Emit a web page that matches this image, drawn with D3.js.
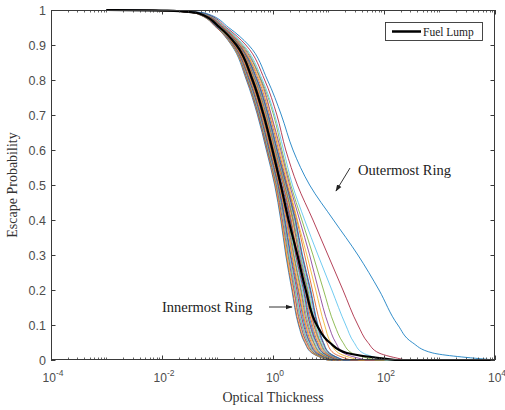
<!DOCTYPE html>
<html>
<head>
<meta charset="utf-8">
<script src="https://cdn.jsdelivr.net/npm/d3@7"></script>
<style>
  html, body { margin: 0; padding: 0; background: #fff; }
  svg { display: block; }
</style>
</head>
<body>
<div id="chart"></div>
<script>

// escape probability levels shared by every curve (y values)
const probLevels = [1, 0.998, 0.99, 0.95, 0.9, 0.8, 0.7, 0.6, 0.5, 0.4, 0.3, 0.2, 0.1, 0.05, 0.02, 0];

// log10(optical thickness) where each ring reaches the levels above, ring 1 = innermost
const ringLogTau = [
  [-3, -1.94, -1.38, -1.02, -0.75, -0.48, -0.28, -0.12, 0.03, 0.14, 0.23, 0.34, 0.46, 0.57, 0.70, 0.97],
  [-3, -1.94, -1.38, -1.02, -0.74, -0.47, -0.27, -0.11, 0.04, 0.15, 0.24, 0.35, 0.47, 0.58, 0.71, 0.98],
  [-3, -1.94, -1.37, -1.01, -0.74, -0.46, -0.26, -0.10, 0.05, 0.16, 0.25, 0.37, 0.49, 0.60, 0.73, 0.99],
  [-3, -1.93, -1.37, -1.01, -0.73, -0.46, -0.26, -0.10, 0.06, 0.17, 0.27, 0.38, 0.50, 0.61, 0.74, 1.01],
  [-3, -1.93, -1.37, -1.00, -0.72, -0.45, -0.25, -0.09, 0.07, 0.19, 0.28, 0.40, 0.52, 0.63, 0.75, 1.02],
  [-3, -1.93, -1.36, -1.00, -0.72, -0.44, -0.24, -0.08, 0.08, 0.20, 0.29, 0.41, 0.53, 0.64, 0.77, 1.03],
  [-3, -1.93, -1.36, -0.99, -0.71, -0.43, -0.23, -0.07, 0.09, 0.21, 0.31, 0.43, 0.55, 0.66, 0.78, 1.05],
  [-3, -1.92, -1.35, -0.99, -0.70, -0.42, -0.22, -0.06, 0.10, 0.22, 0.32, 0.45, 0.57, 0.67, 0.80, 1.06],
  [-3, -1.92, -1.35, -0.98, -0.70, -0.41, -0.21, -0.05, 0.11, 0.24, 0.34, 0.46, 0.59, 0.69, 0.82, 1.08],
  [-3, -1.92, -1.34, -0.98, -0.69, -0.40, -0.20, -0.04, 0.12, 0.25, 0.35, 0.48, 0.60, 0.71, 0.83, 1.09],
  [-3, -1.92, -1.34, -0.97, -0.68, -0.39, -0.19, -0.03, 0.13, 0.26, 0.37, 0.50, 0.62, 0.73, 0.85, 1.11],
  [-3, -1.91, -1.33, -0.96, -0.67, -0.38, -0.18, -0.02, 0.14, 0.28, 0.38, 0.51, 0.64, 0.74, 0.86, 1.12],
  [-3, -1.91, -1.33, -0.96, -0.67, -0.37, -0.17, -0.01, 0.15, 0.29, 0.40, 0.53, 0.66, 0.76, 0.88, 1.14],
  [-3, -1.91, -1.33, -0.95, -0.66, -0.36, -0.16, 0.00, 0.16, 0.31, 0.41, 0.55, 0.67, 0.78, 0.90, 1.15],
  [-3, -1.91, -1.32, -0.95, -0.65, -0.35, -0.15, 0.01, 0.18, 0.32, 0.43, 0.56, 0.69, 0.79, 0.91, 1.17],
  [-3, -1.90, -1.32, -0.94, -0.64, -0.34, -0.14, 0.02, 0.19, 0.33, 0.44, 0.58, 0.71, 0.81, 0.93, 1.18],
  [-3, -1.90, -1.31, -0.94, -0.64, -0.33, -0.13, 0.03, 0.20, 0.35, 0.46, 0.60, 0.73, 0.83, 0.94, 1.20],
  [-3, -1.90, -1.31, -0.93, -0.63, -0.32, -0.12, 0.04, 0.21, 0.36, 0.47, 0.62, 0.74, 0.85, 0.96, 1.21],
  [-3, -1.90, -1.30, -0.93, -0.62, -0.31, -0.11, 0.05, 0.22, 0.37, 0.49, 0.63, 0.76, 0.86, 0.98, 1.23],
  [-3, -1.89, -1.30, -0.92, -0.61, -0.30, -0.10, 0.06, 0.23, 0.39, 0.50, 0.65, 0.78, 0.88, 0.99, 1.24],
  [-3, -1.89, -1.29, -0.91, -0.61, -0.29, -0.09, 0.07, 0.24, 0.40, 0.52, 0.67, 0.80, 0.90, 1.01, 1.26],
  [-3, -1.89, -1.29, -0.91, -0.60, -0.28, -0.08, 0.08, 0.25, 0.41, 0.53, 0.68, 0.81, 0.91, 1.02, 1.27],
  [-3, -1.89, -1.29, -0.91, -0.59, -0.26, -0.06, 0.10, 0.26, 0.43, 0.57, 0.71, 0.86, 0.97, 1.09, 1.40],
  [-3, -1.87, -1.27, -0.89, -0.59, -0.24, -0.04, 0.12, 0.28, 0.44, 0.61, 0.77, 0.93, 1.04, 1.18, 1.55],
  [-3, -1.87, -1.27, -0.89, -0.57, -0.22, -0.03, 0.14, 0.30, 0.48, 0.66, 0.82, 1.00, 1.13, 1.27, 1.67],
  [-3, -1.85, -1.25, -0.87, -0.55, -0.21, 0.01, 0.16, 0.32, 0.52, 0.72, 0.91, 1.11, 1.26, 1.42, 1.85],
  [-3, -1.85, -1.24, -0.86, -0.53, -0.19, 0.03, 0.19, 0.35, 0.57, 0.81, 1.06, 1.31, 1.46, 1.62, 2.03],
  [-3, -1.83, -1.22, -0.84, -0.49, -0.15, 0.07, 0.23, 0.44, 0.72, 0.99, 1.26, 1.53, 1.71, 1.91, 2.39],
  [-3, -1.81, -1.20, -0.80, -0.44, -0.10, 0.15, 0.36, 0.66, 1.09, 1.53, 1.91, 2.25, 2.51, 2.88, 4.00]
];

// whole fuel lump
const fuelLumpLogTau = [-3, -1.90, -1.33, -0.96, -0.66, -0.37, -0.17, -0.01, 0.14, 0.28, 0.44, 0.59, 0.79, 1.02, 1.33, 2.21];

const yTicks = [0, 0.1, 0.2, 0.3, 0.4, 0.5, 0.6, 0.7, 0.8, 0.9, 1];
const xTickExps = [-4, -2, 0, 2, 4];

// matlab default line colour order
const lineColors = ["#0072BD", "#D95319", "#EDB120", "#7E2F8E", "#77AC30", "#4DBEEE", "#A2142F"];


const width = 505, height = 410;
const margin = {top: 10, right: 10, bottom: 50, left: 51};

const svg = d3.select("#chart").append("svg")
  .attr("width", width)
  .attr("height", height);

const x = d3.scaleLog()
  .domain([1e-4, 1e4])
  .range([margin.left, width - margin.right]);

const y = d3.scaleLinear()
  .domain([0, 1])
  .range([height - margin.bottom, margin.top]);

const axisColor = "#3a3a3a";
const labelColor = "#4d4d4d";

svg.append("defs").append("clipPath")
  .attr("id", "plot-clip")
  .append("rect")
  .attr("x", x.range()[0])
  .attr("y", y(1) - 1)
  .attr("width", x.range()[1] - x.range()[0])
  .attr("height", y(0) - y(1) + 2);

svg.select("defs").append("marker")
  .attr("id", "arrow")
  .attr("viewBox", "0 0 10 10")
  .attr("refX", 9)
  .attr("refY", 5)
  .attr("markerWidth", 7)
  .attr("markerHeight", 7)
  .attr("orient", "auto")
  .append("path")
  .attr("d", "M0,1.5 L10,5 L0,8.5 Z")
  .attr("fill", "#222");

// **** curves *****************

// tau as a function of probability is the smooth one, so interpolate along y
const line = d3.line()
  .x(d => x(Math.pow(10, d[0])))
  .y(d => y(d[1]))
  .curve(d3.curveMonotoneY);

function curvePath(logTau) {
  const pts = logTau.map((L, i) => [L, probLevels[i]]);
  // curves lie on zero out to the end of the axis
  return line(pts) + `L${x.range()[1]},${y(0)}`;
}

const plot = svg.append("g").attr("clip-path", "url(#plot-clip)");

plot.append("g")
  .attr("fill", "none")
  .attr("stroke-width", 1)
  .attr("stroke-opacity", 0.8)
  .selectAll("path")
  .data(ringLogTau)
  .join("path")
  .attr("stroke", (d, i) => lineColors[i % lineColors.length])
  .attr("d", curvePath);

plot.append("path")
  .attr("fill", "none")
  .attr("stroke", "#000")
  .attr("stroke-width", 2.2)
  .attr("d", curvePath(fuelLumpLogTau));

// **** axes *****************

const minorTicks = [];
for (let e = -4; e < 4; e++) {
  for (let m = 1; m < 10; m++) {
    if (m === 1 && xTickExps.includes(e)) continue;
    minorTicks.push(m * Math.pow(10, e));
  }
}

const axes = svg.append("g")
  .attr("stroke", axisColor)
  .attr("stroke-width", 1)
  .attr("fill", "none");

axes.append("rect")
  .attr("x", x.range()[0] + 0.5)
  .attr("y", y(1) + 0.5)
  .attr("width", x.range()[1] - x.range()[0] - 1)
  .attr("height", y(0) - y(1) - 1);

// y ticks on both sides, pointing in
axes.selectAll(".ytick")
  .data(yTicks)
  .join("path")
  .attr("class", "ytick")
  .attr("d", d => {
    const py = Math.round(y(d)) + 0.5;
    const x0 = x.range()[0], x1 = x.range()[1];
    return `M${x0},${py}h4.5M${x1},${py}h-4.5`;
  });

// x major and minor ticks, top and bottom
axes.selectAll(".xtick")
  .data(xTickExps.map(e => Math.pow(10, e)))
  .join("path")
  .attr("class", "xtick")
  .attr("d", d => {
    const px = Math.round(x(d)) + 0.5;
    return `M${px},${y(0)}v-4.5M${px},${y(1)}v4.5`;
  });

axes.selectAll(".xminor")
  .data(minorTicks)
  .join("path")
  .attr("class", "xminor")
  .attr("stroke-width", 0.8)
  .attr("d", d => {
    const px = Math.round(x(d)) + 0.5;
    return `M${px},${y(0)}v-2.5M${px},${y(1)}v2.5`;
  });

svg.append("g")
  .attr("font-family", "'Liberation Sans', Arial, sans-serif")
  .attr("font-size", 12.5)
  .attr("fill", labelColor)
  .attr("text-anchor", "end")
  .selectAll("text")
  .data(yTicks)
  .join("text")
  .attr("x", x.range()[0] - 5)
  .attr("y", d => y(d))
  .attr("dy", "0.36em")
  .text(d => d);

const xLabels = svg.append("g")
  .attr("font-family", "'Liberation Sans', Arial, sans-serif")
  .attr("fill", labelColor)
  .attr("text-anchor", "middle")
  .selectAll("text")
  .data(xTickExps)
  .join("text")
  .attr("x", d => x(Math.pow(10, d)) + 2)
  .attr("y", y(0) + 22)
  .attr("font-size", 12);

xLabels.append("tspan").text("10");
xLabels.append("tspan")
  .attr("dy", -6)
  .attr("font-size", 8.5)
  .text(d => d);

// axis titles
svg.append("text")
  .attr("x", (x.range()[0] + x.range()[1]) / 2)
  .attr("y", height - 8)
  .attr("text-anchor", "middle")
  .attr("font-family", "'Liberation Serif', 'Times New Roman', serif")
  .attr("font-size", 14)
  .attr("fill", "#333")
  .text("Optical Thickness");

svg.append("text")
  .attr("transform", `translate(17,${(y(0) + y(1)) / 2}) rotate(-90)`)
  .attr("text-anchor", "middle")
  .attr("font-family", "'Liberation Serif', 'Times New Roman', serif")
  .attr("font-size", 14)
  .attr("fill", "#333")
  .text("Escape Probability");

// **** legend *****************

const legend = svg.append("g").attr("transform", "translate(385,22)");

legend.append("rect")
  .attr("x", 0.5)
  .attr("y", 0.5)
  .attr("width", 97)
  .attr("height", 18)
  .attr("fill", "#fff")
  .attr("stroke", "#333")
  .attr("stroke-width", 0.9);

legend.append("line")
  .attr("x1", 7)
  .attr("x2", 36)
  .attr("y1", 9.5)
  .attr("y2", 9.5)
  .attr("stroke", "#000")
  .attr("stroke-width", 2.5);

legend.append("text")
  .attr("x", 38)
  .attr("y", 13.5)
  .attr("font-family", "'Liberation Serif', 'Times New Roman', serif")
  .attr("font-size", 11.5)
  .attr("fill", "#222")
  .text("Fuel Lump");

// **** annotations *****************

const notes = svg.append("g")
  .attr("font-family", "'Liberation Serif', 'Times New Roman', serif")
  .attr("font-size", 14.5)
  .attr("fill", "#222");

notes.append("text")
  .attr("x", 358)
  .attr("y", 175)
  .text("Outermost Ring");

notes.append("line")
  .attr("x1", 350).attr("y1", 168)
  .attr("x2", 336).attr("y2", 191)
  .attr("stroke", "#333")
  .attr("stroke-width", 1)
  .attr("marker-end", "url(#arrow)");

notes.append("text")
  .attr("x", 162)
  .attr("y", 312)
  .text("Innermost Ring");

notes.append("line")
  .attr("x1", 269).attr("y1", 307)
  .attr("x2", 292).attr("y2", 307)
  .attr("stroke", "#333")
  .attr("stroke-width", 1)
  .attr("marker-end", "url(#arrow)");

</script>
</body>
</html>
